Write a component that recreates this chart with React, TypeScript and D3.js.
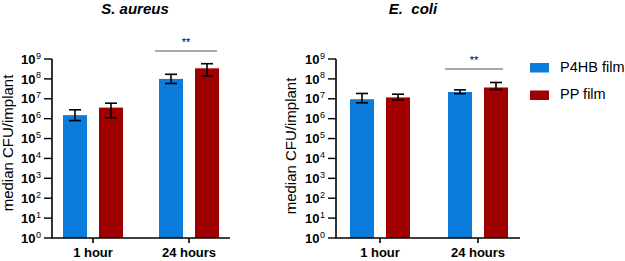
import React from "react";
import * as d3 from "d3";

const groups = ["1 hour", "24 hours"];
const seriesNames = ["P4HB film", "PP film"];
const colors = ["#0b7bdc", "#a00000"];

// S. aureus: [group][series]
const aureusMedian = [[1.5e6, 3.6e6], [1.0e8, 3.4e8]];
const aureusLow = [[8.0e5, 1.1e6], [5.9e7, 1.4e8]];
const aureusHigh = [[2.8e6, 6.0e6], [1.7e8, 5.8e8]];

// E. coli
const coliMedian = [[9.5e6, 1.17e7], [2.2e7, 3.7e7]];
const coliLow = [[6.3e6, 8.6e6], [1.8e7, 2.9e7]];
const coliHigh = [[1.85e7, 1.7e7], [2.8e7, 6.6e7]];

const tickExps = [0, 1, 2, 3, 4, 5, 6, 7, 8, 9];

const FONT = "Arial, 'Liberation Sans', sans-serif";
const Y0 = 238;
const Y1 = 59;

function Panel({ x0, x1, bandStart, bandEnd, title, titleX, median, low, high, sigY, sigX0, sigX1, labelX, labelY }) {
  const y = d3.scaleLog().domain([1, 1e9]).range([Y0, Y1]);
  const xg = d3.scaleBand().domain(groups).range([bandStart, bandEnd]);
  const sub = d3.scalePoint().domain(seriesNames).range([-18, 18]);
  const barW = 24;
  return (
    <g>
      <text x={titleX} y={14} fontFamily={FONT} fontWeight="bold" fontStyle="italic" fontSize={15} textAnchor="middle">{title}</text>
      <text transform={`translate(${labelX},${labelY}) rotate(-90)`} fontFamily={FONT} fontSize={15} textAnchor="middle" dominantBaseline="middle">median CFU/implant</text>
      {groups.map((g, gi) =>
        seriesNames.map((s, si) => {
          const cx = xg(g) + xg.bandwidth() / 2 + sub(s);
          const yt = y(median[gi][si]);
          const yh = y(high[gi][si]);
          const yl = y(low[gi][si]);
          return (
            <g key={g + s}>
              <rect x={cx - barW / 2} y={yt} width={barW} height={Y0 - yt} fill={colors[si]} />
              <line x1={cx} x2={cx} y1={yh} y2={yl} stroke="#000" strokeWidth={1.6} />
              <line x1={cx - 6} x2={cx + 6} y1={yh} y2={yh} stroke="#000" strokeWidth={1.6} />
              <line x1={cx - 6} x2={cx + 6} y1={yl} y2={yl} stroke="#000" strokeWidth={1.6} />
            </g>
          );
        })
      )}
      <line x1={x0} x2={x0} y1={Y1} y2={Y0} stroke="#000" strokeWidth={1.6} />
      <line x1={x0 - 0.8} x2={x1} y1={Y0} y2={Y0} stroke="#000" strokeWidth={1.6} />
      {tickExps.map((e) => {
        const ty = y(Math.pow(10, e));
        return (
          <g key={e}>
            <line x1={x0 - 8} x2={x0} y1={ty} y2={ty} stroke="#000" strokeWidth={1.4} />
            <text x={x0 - 16.5} y={ty + 4.7} fontFamily={FONT} fontWeight="bold" fontSize={13} textAnchor="end">10</text>
            <text x={x0 - 16} y={ty - 0.5} fontFamily={FONT} fontSize={9} textAnchor="start">{e}</text>
          </g>
        );
      })}
      {groups.map((g) => {
        const cx = xg(g) + xg.bandwidth() / 2;
        return (
          <g key={g}>
            <line x1={cx} x2={cx} y1={Y0} y2={Y0 + 5} stroke="#000" strokeWidth={1.6} />
            <text x={cx} y={257} fontFamily={FONT} fontWeight="bold" fontSize={13} textAnchor="middle">{g}</text>
          </g>
        );
      })}
      <line x1={sigX0} x2={sigX1} y1={sigY} y2={sigY} stroke="#555" strokeWidth={1} />
      <text x={(sigX0 + sigX1) / 2} y={sigY - 5} fontFamily={FONT} fontSize={11} textAnchor="middle">**</text>
    </g>
  );
}

export default function App() {
  return (
    <svg width={625} height={261} style={{ position: "absolute", left: 0, top: 0, background: "#fff" }}>
      <Panel x0={52} x1={230} bandStart={45} bandEnd={237} title="S. aureus" titleX={135}
        median={aureusMedian} low={aureusLow} high={aureusHigh}
        sigY={51} sigX0={155} sigX1={217} labelX={9} labelY={143} />
      <Panel x0={336} x1={520} bandStart={331} bandEnd={527} title={"E.\u00a0 coli"} titleX={413}
        median={coliMedian} low={coliLow} high={coliHigh}
        sigY={69} sigX0={445} sigX1={503} labelX={292} labelY={146} />
      {seriesNames.map((s, i) => (
        <g key={s}>
          <rect x={530} y={63 + i * 27.5} width={19} height={9.5} fill={colors[i]} />
          <text x={560} y={68 + i * 27.5} fontFamily={FONT} fontSize={14.5} dominantBaseline="middle">{s}</text>
        </g>
      ))}
    </svg>
  );
}
